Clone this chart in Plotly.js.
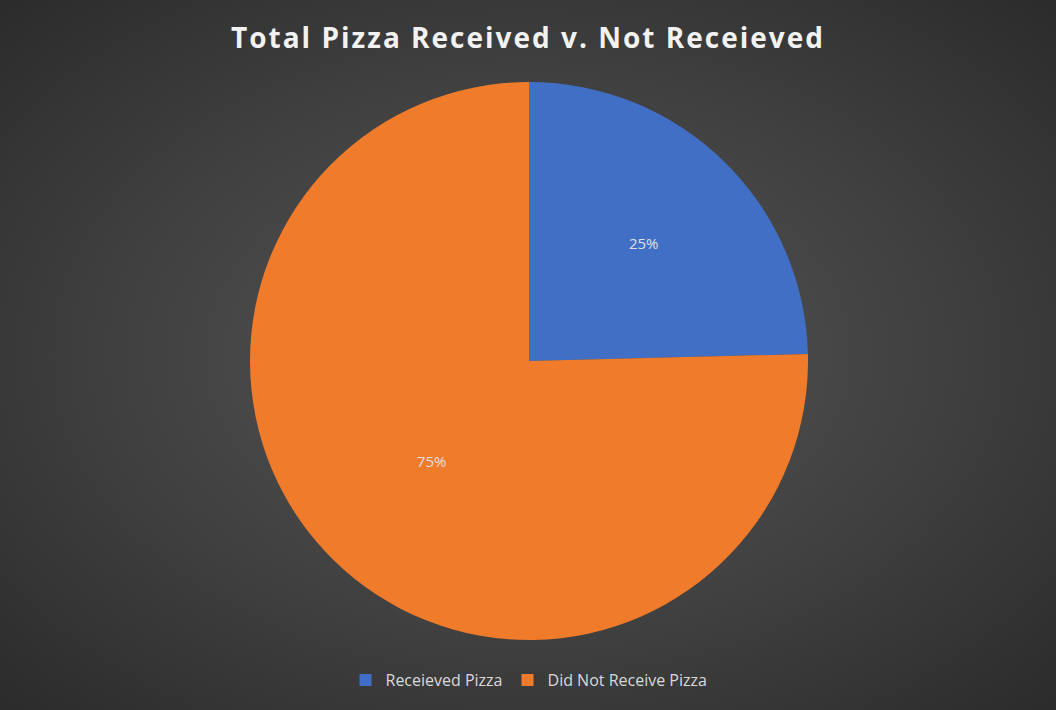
<!DOCTYPE html>
<html>
<head>
<meta charset="utf-8">
<script src="https://cdn.plot.ly/plotly-3.0.1.min.js"></script>
<style>
html, body { margin: 0; padding: 0; }
body {
  width: 1056px; height: 710px; overflow: hidden;
  background: radial-gradient(ellipse at 50% 50%, #575757 0%, #404040 55%, #2b2b2b 100%);
}
#chart { width: 1056px; height: 710px; }
#chart .gtitle { letter-spacing: 2px; }
</style>
</head>
<body>
<div id="chart"></div>
<script>
const categories = ["Receieved Pizza", "Did Not Receive Pizza"];
const values = [24.6, 75.4];
const sliceColors = ["#416FC6", "#F07B2A"];
const chartTitle = "Total Pizza Received v. Not Receieved";

const data = [{
  type: "pie",
  labels: categories,
  values: values,
  sort: false,
  direction: "clockwise",
  rotation: 0,
  marker: { colors: sliceColors, line: { width: 0 } },
  texttemplate: "%{percent:.0%}",
  textposition: "inside",
  insidetextorientation: "horizontal",
  insidetextfont: { family: "Open Sans, sans-serif", size: 15, color: "#e0e0e0" },
  hoverinfo: "label+percent",
  domain: { x: [0, 1], y: [0, 1] }
}];

const layout = {
  width: 1056, height: 710,
  paper_bgcolor: "rgba(0,0,0,0)",
  plot_bgcolor: "rgba(0,0,0,0)",
  margin: { l: 2, r: 0, t: 82, b: 70 },
  title: {
    text: "<b>" + chartTitle + "</b>",
    font: { family: "Open Sans, sans-serif", size: 28, color: "#f2f2f2" },
    x: 0.5, xanchor: "center", y: 0.946, yanchor: "middle"
  },
  showlegend: true,
  legend: {
    orientation: "h",
    x: 0.5, xanchor: "center",
    y: -0.072, yanchor: "middle",
    font: { family: "Open Sans, sans-serif", size: 16, color: "#d9d9d9" },
    itemwidth: 30,
    traceorder: "normal"
  }
};

Plotly.newPlot("chart", data, layout, { displayModeBar: false, staticPlot: true });
</script>
</body>
</html>
